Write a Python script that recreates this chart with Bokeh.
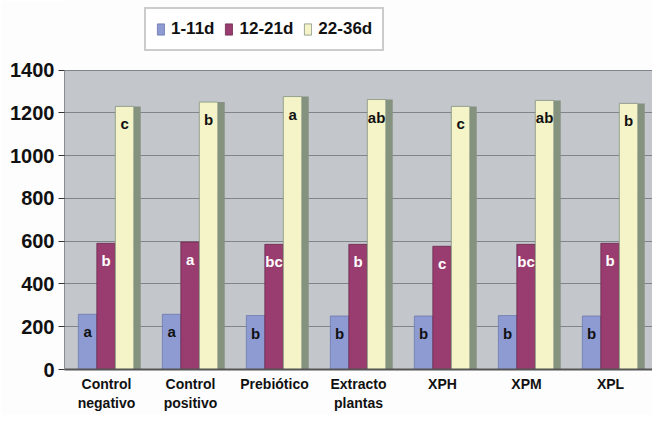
from bokeh.plotting import figure
from bokeh.models import (ColumnDataSource, FactorRange, Legend, LegendItem, Range1d,
                          FixedTicker, BoxAnnotation)
from bokeh.transform import dodge
from bokeh.core.properties import value
from bokeh.embed import file_html
from bokeh.resources import INLINE

categories = ["Control\nnegativo", "Control\npositivo", "Prebiótico", "Extracto\nplantas", "XPH", "XPM", "XPL"]
series = ["1-11d", "12-21d", "22-36d"]
d1_11 = [258, 258, 252, 250, 250, 252, 250]
d12_21 = [590, 596, 585, 585, 576, 585, 590]
d22_36 = [1230, 1250, 1276, 1262, 1230, 1258, 1244]
let_1_11 = ["a", "a", "b", "b", "b", "b", "b"]
let_12_21 = ["b", "a", "bc", "b", "c", "bc", "b"]
let_22_36 = ["c", "b", "a", "ab", "c", "ab", "b"]
y_ticks = [0, 200, 400, 600, 800, 1000, 1200, 1400]

colors = ["#8e9bd3", "#993d70", "#f4f4c8"]
side_colors = ["#6b77ad", "#6b2a4e", "#84927f"]

src = ColumnDataSource(dict(cat=categories, v1=d1_11, v2=d12_21, v3=d22_36,
                            l1=let_1_11, l2=let_12_21, l3=let_22_36))

FONT = "Liberation Sans"
PAGE_BG = "#fdfdfd"

p = figure(width=652, height=415, output_backend="svg", toolbar_location=None, title=None,
           x_range=FactorRange(factors=categories, range_padding=0),
           y_range=Range1d(0, 1725))
p.min_border_left = 64
p.min_border_right = 0
p.min_border_top = 0
p.min_border_bottom = 46
p.background_fill_color = PAGE_BG
p.border_fill_color = PAGE_BG
p.outline_line_color = None

# grey back wall of the chart, up to the top tick
p.add_layout(BoxAnnotation(top=1400, fill_color="#c3c7cc", fill_alpha=1.0,
                           line_color=None, level="image"))

p.xgrid.grid_line_color = None
p.ygrid.grid_line_color = "#80858b"
p.ygrid.grid_line_width = 1.2
p.yaxis.ticker = FixedTicker(ticks=y_ticks)
p.yaxis.bounds = (0, 1400)
p.yaxis.major_label_text_font = FONT
p.yaxis.major_label_text_font_style = "bold"
p.yaxis.major_label_text_font_size = "20px"
p.yaxis.major_label_text_color = "#111111"
p.yaxis.axis_line_color = "#8a8e94"
p.yaxis.major_tick_line_color = "#333333"
p.yaxis.major_tick_in = 0
p.yaxis.major_tick_out = 6
p.yaxis.minor_tick_line_color = None
p.yaxis.major_label_standoff = 4

p.xaxis.major_label_text_font = FONT
p.xaxis.major_label_text_font_style = "bold"
p.xaxis.major_label_text_font_size = "14px"
p.xaxis.major_label_text_color = "#111111"
p.xaxis.axis_line_color = "#555555"
p.xaxis.axis_line_width = 2
p.xaxis.major_tick_line_color = None
p.xaxis.major_tick_in = 0
p.xaxis.major_tick_out = 0
p.xaxis.major_label_standoff = 6

W = 0.22
offs = [-0.225, -0.005, 0.215]
vals = ["v1", "v2", "v3"]
labs = ["l1", "l2", "l3"]
txt_colors = ["#111111", "#ffffff", "#111111"]

# side face of the tall bars
p.vbar(x=dodge("cat", offs[2] + W / 2 + 0.04, range=p.x_range), top="v3", width=0.085,
       source=src, fill_color=side_colors[2], line_color=None)

renderers = []
for i in range(3):
    r = p.vbar(x=dodge("cat", offs[i], range=p.x_range), top=vals[i], width=W, source=src,
               fill_color=colors[i], line_color=side_colors[i], line_width=0.8)
    renderers.append(r)
    p.text(x=dodge("cat", offs[i], range=p.x_range), y=vals[i], text=labs[i], source=src,
           text_align="center", text_baseline="top", y_offset=9,
           text_font=value(FONT), text_font_style="bold", text_font_size="15px",
           text_color=txt_colors[i])

legend = Legend(items=[LegendItem(label=series[i], renderers=[renderers[i]]) for i in range(3)],
                orientation="horizontal", location=(80, 318))
legend.label_text_font = FONT
legend.label_text_font_style = "bold"
legend.label_text_font_size = "17px"
legend.label_text_color = "#111111"
legend.glyph_width = 9
legend.glyph_height = 14
legend.label_standoff = 6
legend.spacing = 10
legend.padding = 10
legend.border_line_color = "#9a9a9a"
legend.border_line_width = 2
legend.background_fill_color = "#ffffff"
legend.background_fill_alpha = 1.0
p.add_layout(legend, "center")

open("out.html", "w").write(file_html(p, INLINE))
